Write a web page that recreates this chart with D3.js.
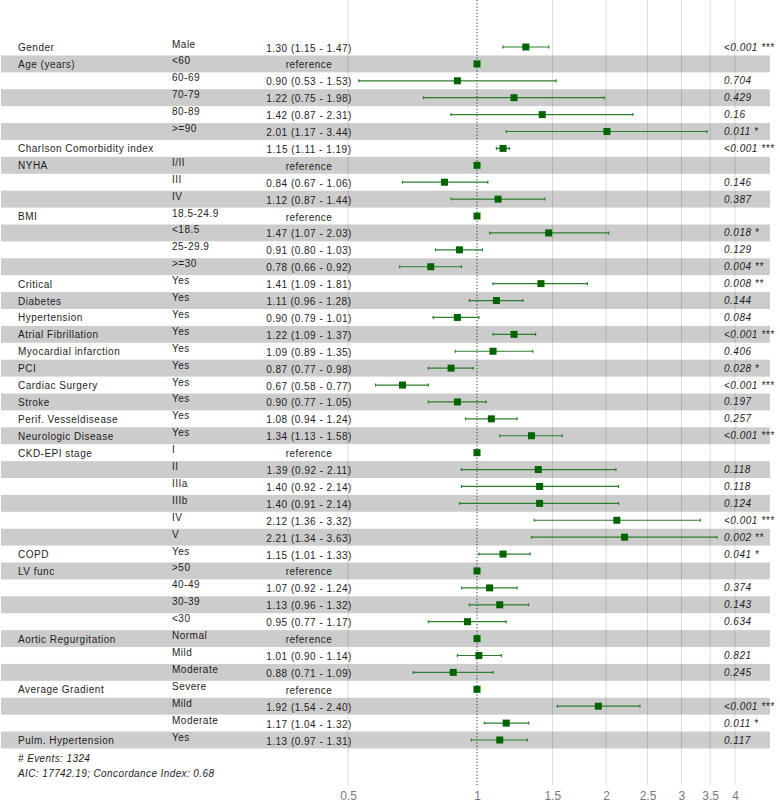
<!DOCTYPE html>
<html>
<head>
<meta charset="utf-8">
<script src="https://cdn.jsdelivr.net/npm/d3@7"></script>
<style>
  html, body { margin: 0; padding: 0; background: #fff; }
  svg { display: block; }
  text { font-family: "Liberation Sans", Arial, sans-serif; }
</style>
</head>
<body>
<svg id="chart" width="780" height="804"></svg>
<script>
// ---- data ----
const variables = ["Gender","Age (years)","","","","","Charlson Comorbidity index","NYHA","","","BMI","","","",
  "Critical","Diabetes","Hypertension","Atrial Fibrillation","Myocardial infarction","PCI","Cardiac Surgery","Stroke",
  "Perif. Vesseldisease","Neurologic Disease","CKD-EPI stage","","","","","","COPD","LV func","","","",
  "Aortic Regurgitation","","","Average Gradient","","","Pulm. Hypertension"];
const levels = ["Male","<60","60-69","70-79","80-89",">=90","","I/II","III","IV","18.5-24.9","<18.5","25-29.9",">=30",
  "Yes","Yes","Yes","Yes","Yes","Yes","Yes","Yes","Yes","Yes","I","II","IIIa","IIIb","IV","V","Yes",">50","40-49","30-39","<30",
  "Normal","Mild","Moderate","Severe","Mild","Moderate","Yes"];
const hr = [1.30,null,0.90,1.22,1.42,2.01,1.15,null,0.84,1.12,null,1.47,0.91,0.78,
  1.41,1.11,0.90,1.22,1.09,0.87,0.67,0.90,1.08,1.34,null,1.39,1.40,1.40,2.12,2.21,1.15,null,1.07,1.13,0.95,
  null,1.01,0.88,null,1.92,1.17,1.13];
const lower = [1.15,null,0.53,0.75,0.87,1.17,1.11,null,0.67,0.87,null,1.07,0.80,0.66,
  1.09,0.96,0.79,1.09,0.89,0.77,0.58,0.77,0.94,1.13,null,0.92,0.92,0.91,1.36,1.34,1.01,null,0.92,0.96,0.77,
  null,0.90,0.71,null,1.54,1.04,0.97];
const upper = [1.47,null,1.53,1.98,2.31,3.44,1.19,null,1.06,1.44,null,2.03,1.03,0.92,
  1.81,1.28,1.01,1.37,1.35,0.98,0.77,1.05,1.24,1.58,null,2.11,2.14,2.14,3.32,3.63,1.33,null,1.24,1.32,1.17,
  null,1.14,1.09,null,2.40,1.32,1.31];
const pvalues = ["<0.001 ***","","0.704","0.429","0.16","0.011 *","<0.001 ***","","0.146","0.387","","0.018 *","0.129","0.004 **",
  "0.008 **","0.144","0.084","<0.001 ***","0.406","0.028 *","<0.001 ***","0.197","0.257","<0.001 ***","","0.118","0.118","0.124","<0.001 ***","0.002 **",
  "0.041 *","","0.374","0.143","0.634","","0.821","0.245","","<0.001 ***","0.011 *","0.117"];
const tickValues = [0.5, 1, 1.5, 2, 2.5, 3, 3.5, 4];
const tickLabels = ["0.5","1","1.5","2","2.5","3","3.5","4"];
const footnotes = ["# Events: 1324", "AIC: 17742.19; Concordance Index: 0.68"];

const rows = variables.map((v, i) => ({
  i, variable: v, level: levels[i], hr: hr[i], lo: lower[i], hi: upper[i], p: pvalues[i]
}));

// ---- layout ----
const svg = d3.select("#chart");
const x = d3.scaleLog().domain([0.5, 4]).range([348, 735]);
const y = d3.scalePoint().domain(rows.map(d => d.i)).range([47, 740]);
const step = y.step();
const stripeX0 = 1, stripeX1 = 770;
const gridTop = 0, gridBottom = 785;

// grid lines
svg.append("g").selectAll("line").data(tickValues.filter(v => v !== 1)).join("line")
  .attr("x1", d => x(d)).attr("x2", d => x(d))
  .attr("y1", gridTop).attr("y2", gridBottom)
  .attr("stroke", "#dcdcdc").attr("stroke-width", 1);

// stripes
svg.append("g").selectAll("rect").data(rows.filter(d => d.i % 2 === 1)).join("rect")
  .attr("x", stripeX0).attr("width", stripeX1 - stripeX0)
  .attr("y", d => y(d.i) - step / 2).attr("height", step)
  .attr("fill", "#000").attr("fill-opacity", 0.2);

// reference line at 1
svg.append("line")
  .attr("x1", x(1)).attr("x2", x(1)).attr("y1", gridTop).attr("y2", gridBottom)
  .attr("stroke", "#333").attr("stroke-width", 1).attr("stroke-dasharray", "1.2,2");

// axis tick labels
const axis = d3.axisBottom(x).tickValues(tickValues).tickFormat((d, k) => tickLabels[k]).tickSize(0).tickPadding(0);
const ax = svg.append("g").attr("transform", `translate(0,${790})`).call(axis);
ax.select(".domain").remove();
ax.selectAll("text").attr("font-size", 12).attr("fill", "#7a7a7a").attr("dy", "0.85em")
  .attr("font-family", "'Liberation Sans', Arial, sans-serif");

// CI lines
const ci = rows.filter(d => d.lo !== null);
const gci = svg.append("g").attr("stroke", "#2e7d2e").attr("stroke-width", 1.2);
gci.selectAll("line.ci").data(ci).join("line").attr("class", "ci")
  .attr("x1", d => x(d.lo)).attr("x2", d => x(d.hi))
  .attr("y1", d => y(d.i)).attr("y2", d => y(d.i));
gci.selectAll("line.capl").data(ci).join("line").attr("class", "capl")
  .attr("x1", d => x(d.lo)).attr("x2", d => x(d.lo))
  .attr("y1", d => y(d.i) - 1.5).attr("y2", d => y(d.i) + 1.5);
gci.selectAll("line.caph").data(ci).join("line").attr("class", "caph")
  .attr("x1", d => x(d.hi)).attr("x2", d => x(d.hi))
  .attr("y1", d => y(d.i) - 1.5).attr("y2", d => y(d.i) + 1.5);

// points
const sq = 7;
svg.append("g").selectAll("rect").data(rows).join("rect")
  .attr("x", d => x(d.hr === null ? 1 : d.hr) - sq / 2)
  .attr("y", d => y(d.i) - sq / 2)
  .attr("width", sq).attr("height", sq)
  .attr("fill", "#006400");

// text columns
const txt = svg.append("g").attr("font-size", 10).attr("fill", "#1e1e1e").attr("letter-spacing", 0.5);
txt.selectAll("text.var").data(rows.filter(d => d.variable)).join("text").attr("class", "var")
  .attr("x", 18).attr("y", d => y(d.i) + 4).text(d => d.variable);
txt.selectAll("text.lev").data(rows.filter(d => d.level)).join("text").attr("class", "lev")
  .attr("x", 172).attr("y", d => y(d.i) + 0.5).text(d => d.level);
txt.selectAll("text.est").data(rows).join("text").attr("class", "est")
  .attr("x", 309).attr("y", d => y(d.i) + 4.5).attr("text-anchor", "middle")
  .text(d => d.hr === null ? "reference" : `${d.hr.toFixed(2)} (${d.lo.toFixed(2)} - ${d.hi.toFixed(2)})`);
txt.selectAll("text.p").data(rows.filter(d => d.p)).join("text").attr("class", "p")
  .attr("x", 724).attr("y", d => y(d.i) + 3.5).attr("font-style", "italic")
  .text(d => d.p);

// footnotes
svg.append("g").attr("font-size", 10).attr("fill", "#1e1e1e").attr("font-style", "italic").attr("letter-spacing", 0.4)
  .selectAll("text").data(footnotes).join("text")
  .attr("x", 18).attr("y", (d, k) => 762 + k * 15).text(d => d);
</script>
</body>
</html>
